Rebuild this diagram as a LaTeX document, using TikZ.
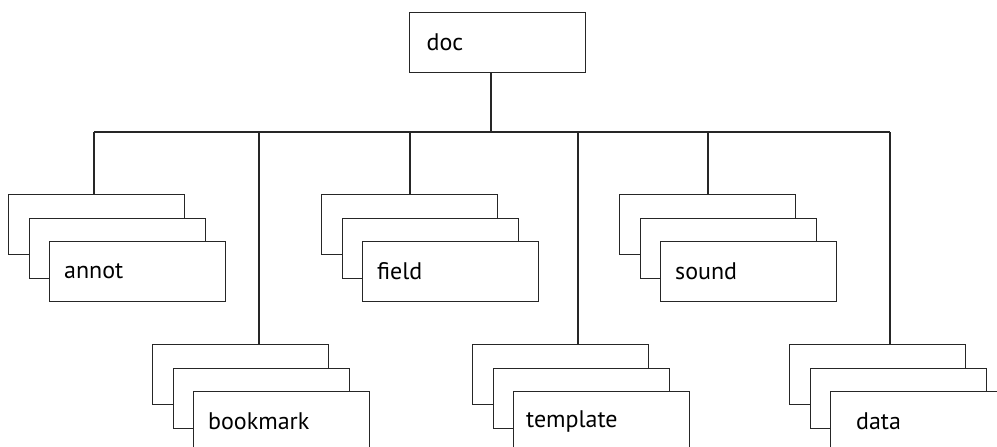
\documentclass[tikz,border=0pt]{standalone}
\usepackage{fontspec}
\setmainfont{PT Sans}
\usetikzlibrary{calc}

\tikzset{
  entry/.style={draw=black!85, line width=1.3pt, fill=white, rectangle,
    anchor=north west, minimum height=60pt, text width=146pt,
    inner xsep=15pt, inner ysep=0pt, align=left,
    font=\fontsize{24}{28}\selectfont},
  wire/.style={draw=black!85, line width=1.3pt}
}

\begin{document}
\begin{tikzpicture}[x=1pt,y=-1pt]
    \useasboundingbox (0,0) rectangle (997,447);
    \node[entry] (doc) at (409,12) {\hspace*{2pt}doc};
    \coordinate (hub) at (491,132);
    \draw[wire] (hub |- doc.south) -- (hub);
    \coordinate (b-annot) at (94,132);
    \coordinate (b-data) at (890,132);
    \draw[wire] (b-annot) -- (b-data);
    % back, middle and front card of each stack
    \foreach \nm/\x/\y/\bx/\pad in {annot/8/194/94/0, field/321/194/410/0, sound/619/194/708/0,
        bookmark/152/344/259/0, template/472/344/578/-2, data/789/344/890/11} {
        \coordinate (b-\nm) at (\bx,132);
        \node[entry] (\nm1) at (\x,\y) {};
        \node[entry] (\nm2) at ($(\nm1.north west)+(20.5,23.5)$) {};
        \node[entry] (\nm3) at ($(\nm2.north west)+(20,23.5)$) {\hspace*{\pad pt}\nm};
        \draw[wire] (b-\nm) -- (b-\nm |- \nm1.north);
    }
\end{tikzpicture}
\end{document}
